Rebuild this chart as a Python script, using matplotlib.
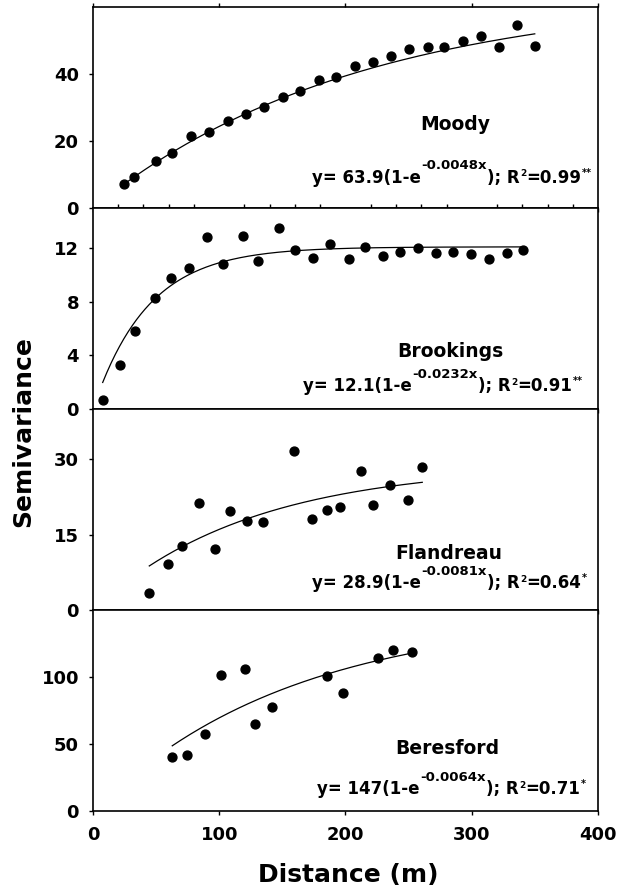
import matplotlib
matplotlib.use("Agg")
import matplotlib.pyplot as plt
import numpy as np

plt.rcParams["font.family"] = "DejaVu Sans"
plt.rcParams["font.weight"] = "bold"

sites = ["Moody", "Brookings", "Flandreau", "Beresford"]

moody_x = [24.6, 32.5, 50.2, 62.6, 77.9, 91.9, 106.7, 121.2, 135.7, 150.2, 163.7, 178.7,
           192.7, 207.5, 221.5, 236.0, 250.3, 265.1, 278.3, 293.1, 307.1, 321.6, 335.6, 349.9]
moody_y = [7.3, 9.3, 14.1, 16.3, 21.4, 22.7, 26.1, 28.2, 30.1, 33.1, 35.0, 38.1,
           39.0, 42.5, 43.5, 45.4, 47.4, 48.2, 48.1, 49.7, 51.3, 48.0, 54.6, 48.4]

brookings_x = [7.7, 21.4, 33.3, 49.4, 62.0, 76.0, 90.0, 103.2, 118.5, 131.0, 147.3, 160.3, 174.5,
               187.5, 202.5, 215.7, 229.4, 243.2, 257.4, 271.7, 285.4, 299.6, 313.4, 327.7, 340.8]
brookings_y = [0.67, 3.3, 5.8, 8.25, 9.76, 10.5, 12.8, 10.8, 12.9, 11.05, 13.5, 11.85, 11.3,
               12.3, 11.2, 12.07, 11.45, 11.7, 12.0, 11.65, 11.7, 11.6, 11.2, 11.65, 11.9]

flandreau_x = [44.6, 59.7, 70.8, 84.0, 96.9, 108.5, 122.0, 134.9, 159.5, 173.2, 185.1, 195.9,
               212.0, 222.0, 235.5, 249.5, 260.8]
flandreau_y = [3.3, 9.2, 12.75, 21.2, 12.2, 19.7, 17.7, 17.6, 31.7, 18.1, 19.9, 20.4,
               27.6, 20.9, 24.9, 21.8, 28.4]

beresford_x = [62.8, 74.5, 89.0, 101.6, 120.6, 128.6, 142.0, 185.1, 198.0, 226.0, 237.9, 252.7]
beresford_y = [40.2, 42.0, 57.8, 101.2, 105.9, 64.7, 77.8, 100.5, 88.1, 114.3, 120.5, 118.7]

# fitted exponential model y = sill * (1 - exp(-rate * x))
sills = [63.9, 12.1, 28.9, 147]
rates = [0.0048, 0.0232, 0.0081, 0.0064]
sill_labels = ["63.9", "12.1", "28.9", "147"]
rate_labels = ["0.0048", "0.0232", "0.0081", "0.0064"]
r2_labels = ["0.99", "0.91", "0.64", "0.71"]
signif = ["**", "**", "*", "*"]

y_max = [60, 15, 40, 150]
y_ticks = [[0, 20, 40], [0, 4, 8, 12], [0, 15, 30], [0, 50, 100]]

xs = [moody_x, brookings_x, flandreau_x, beresford_x]
ys = [moody_y, brookings_y, flandreau_y, beresford_y]

# label placement (axes fraction)
name_pos = [(0.717, 0.413), (0.707, 0.284), (0.705, 0.28), (0.701, 0.312)]
eq_pos = [(0.434, 0.126), (0.416, 0.09), (0.434, 0.11), (0.444, 0.084)]

fig = plt.figure(figsize=(6.19, 8.96), dpi=100)
gs = fig.add_gridspec(4, 1, left=0.1502, right=0.9661, top=0.9922, bottom=0.0949, hspace=0)
axes = [fig.add_subplot(gs[i]) for i in range(4)]

for i, ax in enumerate(axes):
    x = np.array(xs[i])
    ax.plot(x, ys[i], "o", color="black", ms=6.4, zorder=3)
    xc = np.linspace(x.min(), x.max(), 200)
    ax.plot(xc, sills[i] * (1 - np.exp(-rates[i] * xc)), color="black", lw=0.9)

    ax.set_xlim(0, 400)
    ax.set_ylim(0, y_max[i])
    ax.set_yticks(y_ticks[i])
    ax.set_xticks([0, 100, 200, 300, 400])
    for s in ax.spines.values():
        s.set_linewidth(1.2)
    ax.tick_params(axis="both", direction="out", length=3, width=1, labelsize=13, pad=8)
    ax.tick_params(axis="y", pad=7)
    if i < 3:
        ax.tick_params(axis="x", labelbottom=False)

    ax.text(*name_pos[i], sites[i], transform=ax.transAxes, ha="center", va="center",
            fontsize=13.5, fontweight="bold")

    # equation with chained superscripts
    ex, ey = eq_pos[i]
    t1 = ax.text(ex, ey, "y= " + sill_labels[i] + "(1-e", transform=ax.transAxes,
                 ha="left", va="baseline", fontsize=12)
    t2 = ax.annotate("-" + rate_labels[i] + "x", xy=(1, ey), xycoords=(t1, ax.transAxes),
                     xytext=(0.5, 9.5), textcoords="offset points", ha="left", va="baseline",
                     fontsize=9.5)
    t3 = ax.annotate("); R", xy=(1, ey), xycoords=(t2, ax.transAxes),
                     ha="left", va="baseline", fontsize=12)
    t4 = ax.annotate("2", xy=(1, ey), xycoords=(t3, ax.transAxes),
                     xytext=(0.3, 4.5), textcoords="offset points", ha="left", va="baseline",
                     fontsize=6.5)
    t5 = ax.annotate("=" + r2_labels[i], xy=(1, ey), xycoords=(t4, ax.transAxes),
                     ha="left", va="baseline", fontsize=12)
    ax.annotate(signif[i], xy=(1, ey), xycoords=(t5, ax.transAxes),
                xytext=(0.5, 5), textcoords="offset points", ha="left", va="baseline",
                fontsize=7)

axes[0].xaxis.set_minor_locator(matplotlib.ticker.FixedLocator(
    [v for v in range(20, 400, 20) if v % 100 != 0]))
axes[0].tick_params(axis="x", which="minor", direction="in", length=3, width=1)
axes[0].tick_params(axis="x", which="major", top=True)

fig.text(23 / 619, 1 - 432 / 896, "Semivariance", rotation=90, ha="center", va="center",
         fontsize=18, fontweight="bold")
fig.text(348 / 619, 1 - 875 / 896, "Distance (m)", ha="center", va="center",
         fontsize=18, fontweight="bold")

fig.savefig("out.png", dpi=100)
